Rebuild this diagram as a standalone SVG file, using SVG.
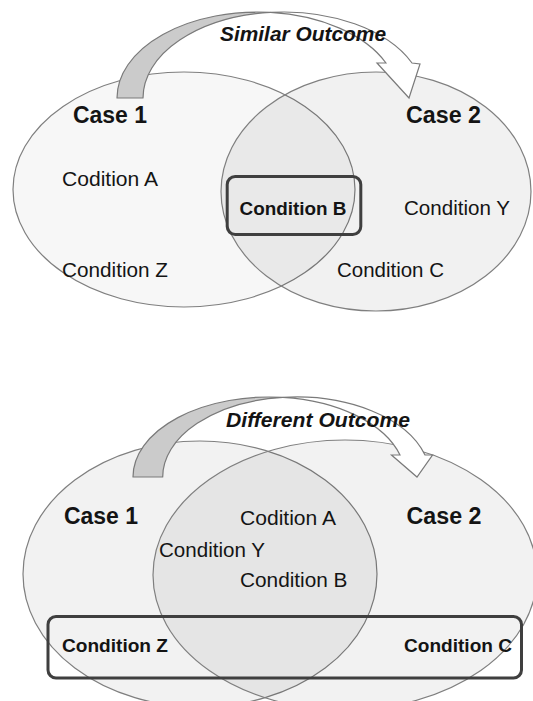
<svg xmlns="http://www.w3.org/2000/svg" width="533" height="701" viewBox="0 0 533 701">
  <style>
    .set { stroke: #7f7f7f; stroke-width: 1.2; }
    .setA { fill: #000; fill-opacity: 0.03; }
    .setB { fill: #000; fill-opacity: 0.055; }
    .setC { fill: #000; fill-opacity: 0.05; }
    .back { fill: #cbcbcb; stroke: #7a7a7a; stroke-width: 1.2; stroke-linejoin: round; }
    .front { fill: #ffffff; stroke: #7a7a7a; stroke-width: 1.2; stroke-linejoin: miter; }
    .frame { fill: none; stroke: #3f3f3f; stroke-width: 3; }
    text { font-family: "Liberation Sans", Arial, sans-serif; fill: #141414; }
    .case { font-size: 23px; font-weight: bold; }
    .cond { font-size: 20px; }
    .key { font-size: 19px; font-weight: bold; }
    .outcome { font-size: 20px; font-weight: bold; font-style: italic; }
  </style>

  <!-- Upper diagram: two overlapping cases -->
  <g id="top-case1"><ellipse class="set setA" cx="184" cy="189.5" rx="171" ry="117.5"/></g>
  <g id="top-case2"><ellipse class="set setB" cx="376" cy="191.5" rx="155" ry="119.5"/></g>

  <!-- Lower diagram: two strongly overlapping cases -->
  <g id="bottom-case1"><ellipse class="set setC" cx="200" cy="574" rx="177" ry="133"/></g>
  <g id="bottom-case2"><ellipse class="set setC" cx="345" cy="575" rx="192" ry="135"/></g>

  <!-- Curved outcome arrows -->
  <g id="connectors">
    <g id="top-arrow">
      <path class="back" d="M117,98 A140.6,86 0 0 1 270.6,12.4 A140.6,86 0 0 0 143,98 Z"/>
      <path class="front" d="M270.6,12.4 A140.6,86 0 0 1 412,63 L420,64 L409,98 L377,63 L386,63 A140.6,86 0 0 0 270.6,12.4 Z"/>
    </g>
    <g id="bottom-arrow">
      <path class="back" d="M133,477 A136.1,80 0 0 1 282.9,397.4 A133.7,80 0 0 0 162.7,477 Z"/>
      <path class="front" d="M282.9,397.4 A133.7,80 0 0 1 425,455 L432.5,455 L417,477 L391.5,455 L400,455 A136.1,80 0 0 0 282.9,397.4 Z"/>
    </g>
  </g>

  <!-- Upper diagram labels -->
  <g id="top-outcome"><text class="outcome" x="220" y="41" textLength="166" lengthAdjust="spacingAndGlyphs">Similar Outcome</text></g>
  <g id="top-case1-label"><text class="case" x="73" y="123" textLength="74" lengthAdjust="spacingAndGlyphs">Case 1</text></g>
  <g id="top-case2-label"><text class="case" x="406" y="123" textLength="75" lengthAdjust="spacingAndGlyphs">Case 2</text></g>
  <g id="top-cond-a"><text class="cond" x="62" y="186" textLength="96" lengthAdjust="spacingAndGlyphs">Codition A</text></g>
  <g id="top-cond-b">
    <rect class="frame" x="227.2" y="176.5" width="133.6" height="58" rx="8"/>
    <text class="key" x="239.5" y="215" textLength="107" lengthAdjust="spacingAndGlyphs">Condition B</text>
  </g>
  <g id="top-cond-y"><text class="cond" x="404" y="215" textLength="106" lengthAdjust="spacingAndGlyphs">Condition Y</text></g>
  <g id="top-cond-z"><text class="cond" x="62" y="276.5" textLength="106" lengthAdjust="spacingAndGlyphs">Condition Z</text></g>
  <g id="top-cond-c"><text class="cond" x="337" y="276.5" textLength="107" lengthAdjust="spacingAndGlyphs">Condition C</text></g>

  <!-- Lower diagram labels -->
  <g id="bottom-outcome"><text class="outcome" x="226" y="427" textLength="184" lengthAdjust="spacingAndGlyphs">Different Outcome</text></g>
  <g id="bottom-case1-label"><text class="case" x="64" y="524" textLength="74" lengthAdjust="spacingAndGlyphs">Case 1</text></g>
  <g id="bottom-case2-label"><text class="case" x="406.5" y="524" textLength="75" lengthAdjust="spacingAndGlyphs">Case 2</text></g>
  <g id="bottom-cond-a"><text class="cond" x="240" y="525" textLength="96" lengthAdjust="spacingAndGlyphs">Codition A</text></g>
  <g id="bottom-cond-y"><text class="cond" x="159" y="556.5" textLength="106" lengthAdjust="spacingAndGlyphs">Condition Y</text></g>
  <g id="bottom-cond-b"><text class="cond" x="240" y="586.5" textLength="107.5" lengthAdjust="spacingAndGlyphs">Condition B</text></g>
  <g id="bottom-cond-zc">
    <rect class="frame" x="48" y="616.5" width="473.5" height="61.5" rx="8"/>
    <text class="key" x="62" y="651.5" textLength="106" lengthAdjust="spacingAndGlyphs">Condition Z</text>
    <text class="key" x="404" y="651.5" textLength="108" lengthAdjust="spacingAndGlyphs">Condition C</text>
  </g>
</svg>
